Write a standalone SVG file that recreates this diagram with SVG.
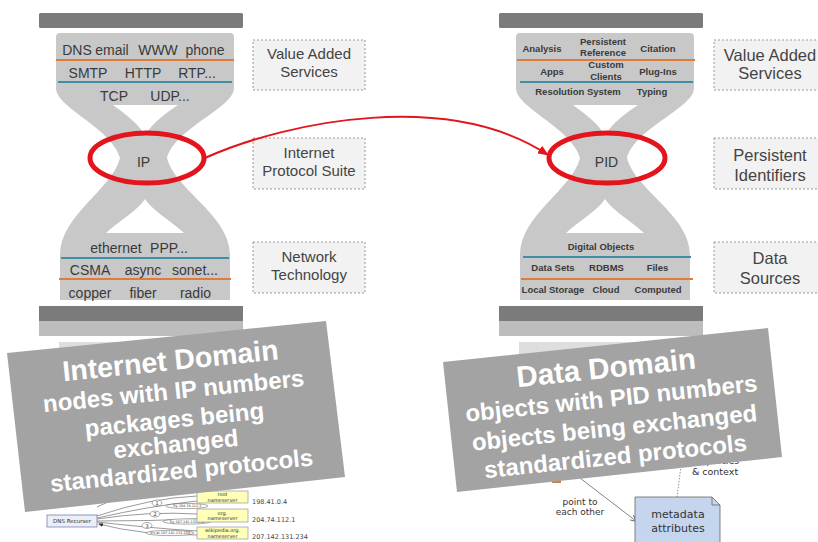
<svg xmlns="http://www.w3.org/2000/svg" xmlns:xlink="http://www.w3.org/1999/xlink" width="818" height="542" viewBox="0 0 818 542">
<defs>
<style>
.bar{fill:#7b7b7b}
.bar2{fill:#bdbdbd}
.base{fill:#dedede}
.body{fill:#c8c8c8}
.hole{fill:#fff}
.orange{stroke:#e07b39;stroke-width:2.2}
.teal{stroke:#3f8ea6;stroke-width:2.2}
.t{font-family:"Liberation Sans",Arial,sans-serif;font-size:14px;fill:#3a3a3a;text-anchor:middle}
.tb{font-family:"Liberation Sans",Arial,sans-serif;font-size:9.5px;font-weight:bold;fill:#3a3a3a;text-anchor:middle}
.ring{fill:none;stroke:#e3141c;stroke-width:5}
.lbl{fill:#f2f2f2;stroke:#9a9a9a;stroke-width:1;stroke-dasharray:2 2}
.lt{font-family:"Liberation Sans",Arial,sans-serif;font-size:15px;fill:#444;text-anchor:middle}
.lt2{font-family:"Liberation Sans",Arial,sans-serif;font-size:16.5px;fill:#444;text-anchor:middle}
.banner{fill:#a3a3a3}
.bt{font-family:"Liberation Sans",Arial,sans-serif;font-weight:bold;fill:#fff;text-anchor:middle}
.small{font-family:"DejaVu Sans",sans-serif;fill:#333;text-anchor:middle}
.tiny{font-family:"DejaVu Sans",sans-serif;fill:#333;text-anchor:middle}
.ip{font-family:"DejaVu Sans",sans-serif;font-size:6.5px;fill:#444}
.thin{fill:none;stroke:#555;stroke-width:0.6}
</style>
<marker id="redArrow" markerUnits="userSpaceOnUse" markerWidth="11" markerHeight="9" refX="10" refY="4.5" orient="auto">
<path d="M0,0 L11,4.5 L0,9 Z" fill="#e3141c"/>
</marker>
<marker id="grayArrow" markerUnits="userSpaceOnUse" markerWidth="7" markerHeight="6" refX="6" refY="3" orient="auto">
<path d="M0,0 L7,3 L0,6" fill="none" stroke="#555" stroke-width="0.8"/>
</marker>
<marker id="tinyArrow" markerUnits="userSpaceOnUse" markerWidth="5" markerHeight="4" refX="4" refY="2" orient="auto">
<path d="M0,0 L5,2 L0,4 Z" fill="#333"/>
</marker>
<g id="hgShape">
<rect class="bar" x="39" y="13" width="204" height="15" rx="1.5"/>
<path class="body" d="M60,33 H230 Q234,33 234,37 V88 C234,108 175,128 167,158 C175,190 230,215 230,255 V300 H60 V255 C60,215 112,190 120,158 C112,128 56,108 56,88 V37 Q56,33 60,33 Z"/>
<path class="hole" d="M113,105 H178 C168,112 152,122 145,136 C138,122 122,112 113,105 Z"/>
<path class="hole" d="M145,199 C152,210 172,222 184,233 H106 C118,222 138,210 145,199 Z"/>
<rect class="bar" x="39" y="306" width="204" height="15"/>
<rect class="bar2" x="39" y="321" width="204" height="15"/>
<rect class="base" x="59" y="342" width="171" height="40"/>
</g>
</defs>
<rect width="818" height="542" fill="#fff"/>

<g id="internet-hourglass">
<use xlink:href="#hgShape"/>
<line class="orange" x1="56" y1="60" x2="234" y2="60"/>
<line class="teal" x1="58" y1="82" x2="232" y2="82"/>
<line class="teal" x1="61" y1="258" x2="229" y2="258"/>
<line class="orange" x1="59" y1="279" x2="231" y2="279"/>
<text class="t" x="77" y="55">DNS</text>
<text class="t" x="112" y="55">email</text>
<text class="t" x="158" y="55">WWW</text>
<text class="t" x="205" y="55">phone</text>
<text class="t" x="88" y="78">SMTP</text>
<text class="t" x="143" y="78">HTTP</text>
<text class="t" x="197" y="78">RTP...</text>
<text class="t" x="114" y="101">TCP</text>
<text class="t" x="170" y="101">UDP...</text>
<text class="t" x="143.5" y="167">IP</text>
<text class="t" x="116" y="253">ethernet</text>
<text class="t" x="169" y="253">PPP...</text>
<text class="t" x="90" y="275">CSMA</text>
<text class="t" x="143" y="275">async</text>
<text class="t" x="195" y="275">sonet...</text>
<text class="t" x="90" y="298">copper</text>
<text class="t" x="143" y="298">fiber</text>
<text class="t" x="195.5" y="298">radio</text>
<ellipse class="ring" cx="147" cy="158" rx="57" ry="25"/>
</g>

<g id="data-hourglass">
<use xlink:href="#hgShape" x="460"/>
<line class="orange" x1="517" y1="60" x2="695" y2="60"/>
<line class="teal" x1="520" y1="82" x2="693" y2="82"/>
<line class="teal" x1="523" y1="257" x2="691" y2="257"/>
<line class="orange" x1="521" y1="279" x2="693" y2="279"/>
<text class="tb" x="542" y="51.5">Analysis</text>
<text class="tb" x="603" y="44.5">Persistent</text>
<text class="tb" x="603" y="56">Reference</text>
<text class="tb" x="658" y="51.5">Citation</text>
<text class="tb" x="552" y="74.5">Apps</text>
<text class="tb" x="606" y="67.5">Custom</text>
<text class="tb" x="606" y="80">Clients</text>
<text class="tb" x="658" y="74.5">Plug-Ins</text>
<text class="tb" x="578" y="95">Resolution System</text>
<text class="tb" x="652" y="95">Typing</text>
<text class="t" x="606.5" y="167">PID</text>
<text class="tb" x="601" y="249.5">Digital Objects</text>
<text class="tb" x="553" y="271">Data Sets</text>
<text class="tb" x="606.5" y="271">RDBMS</text>
<text class="tb" x="657.5" y="271">Files</text>
<text class="tb" x="553" y="293">Local Storage</text>
<text class="tb" x="606" y="293">Cloud</text>
<text class="tb" x="658" y="293">Computed</text>
<ellipse class="ring" cx="607" cy="158" rx="58" ry="25"/>
</g>

<g id="label-vas-left">
<rect class="lbl" x="253" y="40" width="112" height="50"/>
<text class="lt" x="309" y="59">Value Added</text>
<text class="lt" x="309" y="77">Services</text>
</g>
<g id="label-ips">
<rect class="lbl" x="253" y="138" width="112" height="51"/>
<text class="lt" x="309" y="158">Internet</text>
<text class="lt" x="309" y="175.5">Protocol Suite</text>
</g>
<g id="label-net">
<rect class="lbl" x="253" y="242" width="112" height="51"/>
<text class="lt" x="309" y="262">Network</text>
<text class="lt" x="309" y="279.5">Technology</text>
</g>
<g id="label-vas-right">
<rect class="lbl" x="714" y="40" width="112" height="50"/>
<text class="lt2" x="770" y="61">Value Added</text>
<text class="lt2" x="770" y="79">Services</text>
</g>
<g id="label-pid">
<rect class="lbl" x="714" y="138" width="112" height="51"/>
<text class="lt2" x="770" y="161">Persistent</text>
<text class="lt2" x="770" y="181">Identifiers</text>
</g>
<g id="label-ds">
<rect class="lbl" x="714" y="242" width="112" height="51"/>
<text class="lt2" x="770" y="264">Data</text>
<text class="lt2" x="770" y="284">Sources</text>
</g>

<g id="connectors">
<path d="M205,158 C290,120 450,90 548,155" fill="none" stroke="#e3141c" stroke-width="2" marker-end="url(#redArrow)"/>
</g>

<g id="dns-diagram">
<line class="thin" x1="97" y1="507" x2="108" y2="502"/>
<path class="thin" d="M97,516 Q150,498 197,496"/>
<path class="thin" d="M197,501 Q150,506 97,518"/>
<path class="thin" d="M97,519 Q150,511 197,514"/>
<path class="thin" d="M197,519 Q150,521 97,521"/>
<path class="thin" d="M97,522 Q150,528 197,531"/>
<path class="thin" d="M197,535 Q140,535 99,524" marker-end="url(#tinyArrow)"/>
<ellipse cx="157" cy="503" rx="5" ry="3" fill="#fff" stroke="#555" stroke-width="0.5"/>
<text class="tiny" x="157" y="505" style="font-size:5px">1</text>
<ellipse cx="187" cy="506" rx="21" ry="2.6" fill="#fff" stroke="#555" stroke-width="0.5"/>
<text class="tiny" x="187" y="507.3" style="font-size:3.4px">Try 204.74.112.1</text>
<ellipse cx="155" cy="514" rx="5" ry="3" fill="#fff" stroke="#555" stroke-width="0.5"/>
<text class="tiny" x="155" y="516" style="font-size:5px">2</text>
<ellipse cx="187" cy="521.5" rx="24" ry="2.6" fill="#fff" stroke="#555" stroke-width="0.5"/>
<text class="tiny" x="187" y="522.8" style="font-size:3.4px">Try 207.142.131.234</text>
<ellipse cx="147" cy="525.5" rx="5" ry="3" fill="#fff" stroke="#555" stroke-width="0.5"/>
<text class="tiny" x="147" y="527.5" style="font-size:5px">3</text>
<ellipse cx="170" cy="533" rx="24" ry="2.6" fill="#fff" stroke="#555" stroke-width="0.5"/>
<text class="tiny" x="170" y="534.3" style="font-size:3.4px">It's at 207.142.131.234</text>
<rect x="47" y="515" width="50" height="12" fill="#eceef8" stroke="#7a80b0" stroke-width="0.8"/>
<text class="tiny" x="72" y="523" style="font-size:5.5px">DNS Recurser</text>
<rect x="197" y="491" width="51" height="12" fill="#ffffb8" stroke="#888" stroke-width="0.6"/>
<text class="tiny" x="222.5" y="496" style="font-size:5px">root</text>
<text class="tiny" x="222.5" y="501.5" style="font-size:5px">nameserver</text>
<rect x="197" y="509" width="51" height="13" fill="#ffffb8" stroke="#888" stroke-width="0.6"/>
<text class="tiny" x="222.5" y="514.5" style="font-size:5px">org.</text>
<text class="tiny" x="222.5" y="520" style="font-size:5px">nameserver</text>
<rect x="197" y="527" width="51" height="12" fill="#ffffb8" stroke="#888" stroke-width="0.6"/>
<text class="tiny" x="222.5" y="532" style="font-size:5px">wikipedia.org.</text>
<text class="tiny" x="222.5" y="537.5" style="font-size:5px">nameserver</text>
<text class="ip" x="252" y="504">198.41.0.4</text>
<text class="ip" x="252" y="522">204.74.112.1</text>
<text class="ip" x="252" y="539">207.142.131.234</text>
</g>

<g id="pid-diagram">
<rect x="552" y="476" width="9" height="7" fill="#c8804a"/>
<line x1="576" y1="475" x2="636" y2="521" stroke="#666" stroke-width="0.8" marker-end="url(#grayArrow)"/>
<line x1="681" y1="466" x2="677" y2="497" stroke="#777" stroke-width="0.8" stroke-dasharray="1.5 1.5"/>
<text class="small" x="715" y="464" style="font-size:9.5px">properties</text>
<text class="small" x="715" y="475" style="font-size:9.5px">&amp; context</text>
<text class="small" x="580" y="505" style="font-size:9px">point to</text>
<text class="small" x="580" y="515" style="font-size:9px">each other</text>
<path d="M635,497 H712 L720,505 V545 H635 Z" fill="#c5d5ee" stroke="#666" stroke-width="0.8"/>
<path d="M712,497 V505 H720" fill="none" stroke="#666" stroke-width="0.8"/>
<text class="small" x="678" y="518" style="font-size:11px">metadata</text>
<text class="small" x="678" y="532" style="font-size:11px">attributes</text>
</g>

<g id="banner-internet">
<polygon class="banner" points="7,353 326,321 345,477 25,512"/>
<g transform="translate(176,416) rotate(-5.8)">
<text class="bt" x="0" y="-46" style="font-size:28.5px">Internet Domain</text>
<text class="bt" x="0" y="-17" style="font-size:24px">nodes with IP numbers</text>
<text class="bt" x="-2" y="11.5" style="font-size:24px">packages being</text>
<text class="bt" x="-3" y="36" style="font-size:24px">exchanged</text>
<text class="bt" x="0" y="63" style="font-size:24px">standardized protocols</text>
</g>
</g>

<g id="banner-data">
<polygon class="banner" points="443,362 768,328 782,457 457,492"/>
<g transform="translate(612.5,410) rotate(-6)">
<text class="bt" x="-2" y="-32.5" style="font-size:29.5px">Data Domain</text>
<text class="bt" x="0" y="-3.5" style="font-size:24px">objects with PID numbers</text>
<text class="bt" x="0" y="26" style="font-size:24px">objects being exchanged</text>
<text class="bt" x="-2" y="54.5" style="font-size:24px">standardized protocols</text>
</g>
</g>
</svg>
